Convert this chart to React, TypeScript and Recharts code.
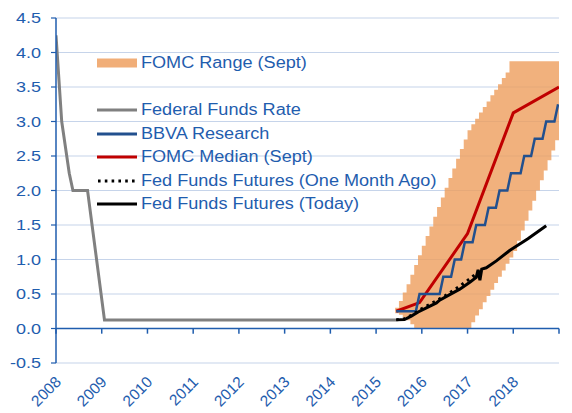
import React from "react";
import {
  Area,
  CartesianGrid,
  ComposedChart,
  Legend,
  Line,
  ReferenceLine,
  XAxis,
  YAxis,
} from "recharts";

const BLUE = "#1F5DAE";
const ORANGE = "#EE9D5C";
const GRAY = "#808080";
const NAVY = "#22508E";
const RED = "#C00000";
const FONT = "'Liberation Sans', Arial, sans-serif";

// axis ticks
const yTicks = [-0.5, 0, 0.5, 1, 1.5, 2, 2.5, 3, 3.5, 4, 4.5];
const yearLabels = [2008, 2009, 2010, 2011, 2012, 2013, 2014, 2015, 2016, 2017, 2018];
const yearMarks = [2008, 2009, 2010, 2011, 2012, 2013, 2014, 2015, 2016, 2017, 2018, 2019];

// Federal Funds Rate
const fedYears = [2008.0, 2008.125, 2008.29, 2008.37, 2008.69, 2009.06, 2015.44];
const fedRate = [4.25, 3.0, 2.25, 2.0, 2.0, 0.125, 0.125];

// BBVA Research
const bbvaYears = [
  2015.44, 2015.87, 2015.95, 2016.39, 2016.47, 2016.64, 2016.72, 2016.86, 2016.94,
  2017.11, 2017.19, 2017.38, 2017.46, 2017.62, 2017.7, 2017.87, 2017.95, 2018.16,
  2018.24, 2018.39, 2018.47, 2018.64, 2018.72, 2018.9, 2018.98,
];
const bbvaRate = [
  0.25, 0.25, 0.5, 0.5, 0.75, 0.75, 1.0, 1.0, 1.25, 1.25, 1.5, 1.5, 1.75, 1.75, 2.0,
  2.0, 2.25, 2.25, 2.5, 2.5, 2.75, 2.75, 3.0, 3.0, 3.25,
];

// FOMC Median (Sept)
const medianYears = [2015.44, 2015.95, 2017.0, 2018.0, 2019.0];
const medianRate = [0.25, 0.375, 1.375, 3.125, 3.5];

// Fed Funds Futures (One Month Ago)
const monthAgoYears = [2015.44, 2015.62, 2015.77, 2015.95, 2016.2, 2016.5, 2016.8, 2017.05, 2017.2, 2017.3];
const monthAgoRate = [0.125, 0.14, 0.19, 0.27, 0.36, 0.47, 0.6, 0.72, 0.8, 0.85];

// Fed Funds Futures (Today)
const todayYears = [
  2015.44, 2015.62, 2015.77, 2015.92, 2016.1, 2016.32, 2016.39, 2016.61, 2016.83,
  2017.05, 2017.19, 2017.23, 2017.27, 2017.31, 2017.41, 2017.63, 2017.92, 2018.32, 2018.72,
];
const todayRate = [
  0.125, 0.13, 0.18, 0.24, 0.3, 0.37, 0.41, 0.49, 0.57, 0.67, 0.74, 0.85, 0.7, 0.86,
  0.88, 0.98, 1.13, 1.3, 1.49,
];

// FOMC Range (Sept), monthly
const bandMonths = [
  "2015-06", "2015-07", "2015-08", "2015-09", "2015-10", "2015-11", "2015-12",
  "2016-01", "2016-02", "2016-03", "2016-04", "2016-05", "2016-06", "2016-07",
  "2016-08", "2016-09", "2016-10", "2016-11", "2016-12", "2017-01", "2017-02",
  "2017-03", "2017-04", "2017-05", "2017-06", "2017-07", "2017-08", "2017-09",
  "2017-10", "2017-11", "2017-12", "2018-01", "2018-02", "2018-03", "2018-04",
  "2018-05", "2018-06", "2018-07", "2018-08", "2018-09", "2018-10", "2018-11",
  "2018-12", "2019-01",
];
const bandHigh = [
  0.3, 0.4, 0.52, 0.64, 0.78, 0.92, 1.06, 1.2, 1.34, 1.48, 1.62, 1.76, 1.9, 2.04,
  2.18, 2.32, 2.46, 2.6, 2.74, 2.875, 2.96, 3.04, 3.13, 3.21, 3.29, 3.38, 3.46, 3.54,
  3.63, 3.71, 3.875, 3.875, 3.875, 3.875, 3.875, 3.875, 3.875, 3.875, 3.875, 3.875,
  3.875, 3.875, 3.875, 3.875,
];
const bandLow = [
  0.22, 0.2, 0.16, 0.12, 0.06, 0, 0, 0, 0, 0, 0, 0, 0, 0, 0, 0, 0, 0, 0, 0, 0.09,
  0.19, 0.28, 0.38, 0.47, 0.56, 0.66, 0.75, 0.84, 0.94, 1.03, 1.125, 1.27, 1.42, 1.56,
  1.71, 1.85, 2.0, 2.15, 2.29, 2.44, 2.58, 2.73, 2.875,
];

const pairs = (xs: number[], ys: number[]) => xs.map((x, i) => ({ x, v: ys[i] }));
const monthToYear = (m: string) => {
  const [y, mo] = m.split("-").map(Number);
  return y + (mo - 1) / 12;
};

const fedData = pairs(fedYears, fedRate);
const bbvaData = pairs(bbvaYears, bbvaRate);
const medianData = pairs(medianYears, medianRate);
const monthAgoData = pairs(monthAgoYears, monthAgoRate);
const todayData = pairs(todayYears, todayRate);
const bandData = bandMonths.map((m, i) => ({ x: monthToYear(m), range: [bandLow[i], bandHigh[i]] }));

const legendItems = [
  { label: "FOMC Range (Sept)", kind: "box", color: "#F1AE78" },
  { label: "", kind: "none", color: "" },
  { label: "Federal Funds Rate", kind: "line", color: GRAY },
  { label: "BBVA Research", kind: "line", color: NAVY },
  { label: "FOMC Median (Sept)", kind: "line", color: RED },
  { label: "Fed Funds Futures (One Month Ago)", kind: "dots", color: "#000" },
  { label: "Fed Funds Futures (Today)", kind: "line", color: "#000" },
];

function ChartLegend() {
  return (
    <div style={{ fontFamily: FONT, fontSize: 16, color: BLUE }}>
      {legendItems.map((it, i) => (
        <div key={i} style={{ height: 23.6, display: "flex", alignItems: "center" }}>
          <svg width={44} height={12} style={{ flex: "none" }}>
            {it.kind === "box" && <rect x={0} y={1.5} width={40} height={9} fill={it.color} />}
            {it.kind === "line" && <line x1={0} x2={40} y1={6} y2={6} stroke={it.color} strokeWidth={3} />}
            {it.kind === "dots" && (
              <line x1={1} x2={40} y1={6} y2={6} stroke={it.color} strokeWidth={3} strokeDasharray="2.6 4.2" />
            )}
          </svg>
          <span style={{ display: "inline-block", transform: "scaleX(1.13)", transformOrigin: "left center", whiteSpace: "nowrap" }}>
            {it.label}
          </span>
        </div>
      ))}
    </div>
  );
}

function YTick(props: any) {
  const { x, y, payload } = props;
  return (
    <g transform={`translate(${x},${y})`}>
      <text textAnchor="end" dy="0.36em" fill={BLUE} fontSize={15} fontFamily={FONT} transform="scale(1.2,1)">
        {Number(payload.value).toFixed(1)}
      </text>
    </g>
  );
}

function XTick(props: any) {
  const { x, y, payload } = props;
  const px = x + 6;
  const py = y + 20;
  return (
    <text
      x={px}
      y={py}
      textAnchor="end"
      fill={BLUE}
      fontSize={15.5}
      fontFamily={FONT}
      transform={`rotate(-45, ${px}, ${py})`}
    >
      {payload.value}
    </text>
  );
}

export default function App() {
  return (
    <div style={{ position: "absolute", left: 0, top: 0 }}>
      <ComposedChart width={572} height={413} margin={{ top: 18, right: 13, bottom: 0, left: 0 }}>
        <CartesianGrid vertical={false} stroke="#C6D4EA" strokeWidth={1.2} />
        <XAxis
          dataKey="x"
          type="number"
          domain={[2008, 2019]}
          ticks={yearLabels}
          interval={0}
          height={50}
          axisLine={false}
          tickLine={false}
          tickSize={0}
          tickMargin={0}
          tick={<XTick />}
          allowDataOverflow
        />
        <YAxis
          type="number"
          domain={[-0.5, 4.5]}
          ticks={yTicks}
          interval={0}
          width={56}
          axisLine={{ stroke: BLUE, strokeWidth: 1.5 }}
          tickLine={{ stroke: BLUE, strokeWidth: 1.2 }}
          tickSize={5}
          tickMargin={10}
          tick={<YTick />}
          allowDataOverflow
        />
        <Area
          data={bandData}
          dataKey="range"
          type="stepAfter"
          fill={ORANGE}
          fillOpacity={0.8}
          stroke="none"
          isAnimationActive={false}
          legendType="none"
        />
        <ReferenceLine y={0} stroke={BLUE} strokeWidth={1.5} />
        {yearMarks.map((yr) => (
          <ReferenceLine
            key={yr}
            segment={[
              { x: yr, y: 0 },
              { x: yr, y: -0.075 },
            ]}
            stroke={BLUE}
            strokeWidth={1.5}
          />
        ))}
        <Line data={fedData} dataKey="v" type="linear" stroke={GRAY} strokeWidth={3} dot={false} isAnimationActive={false} />
        <Line data={medianData} dataKey="v" type="linear" stroke={RED} strokeWidth={3} dot={false} isAnimationActive={false} />
        <Line data={bbvaData} dataKey="v" type="linear" stroke={NAVY} strokeWidth={2.5} dot={false} isAnimationActive={false} />
        <Line
          data={monthAgoData}
          dataKey="v"
          type="linear"
          stroke="#000"
          strokeWidth={3}
          strokeDasharray="2.6 4.2"
          dot={false}
          isAnimationActive={false}
        />
        <Line data={todayData} dataKey="v" type="linear" stroke="#000" strokeWidth={3} dot={false} isAnimationActive={false} />
        <Legend
          layout="horizontal"
          verticalAlign="middle"
          align="center"
          content={<ChartLegend />}
          wrapperStyle={{ left: 97, top: 51, width: 380, height: 170 }}
        />
      </ComposedChart>
    </div>
  );
}
